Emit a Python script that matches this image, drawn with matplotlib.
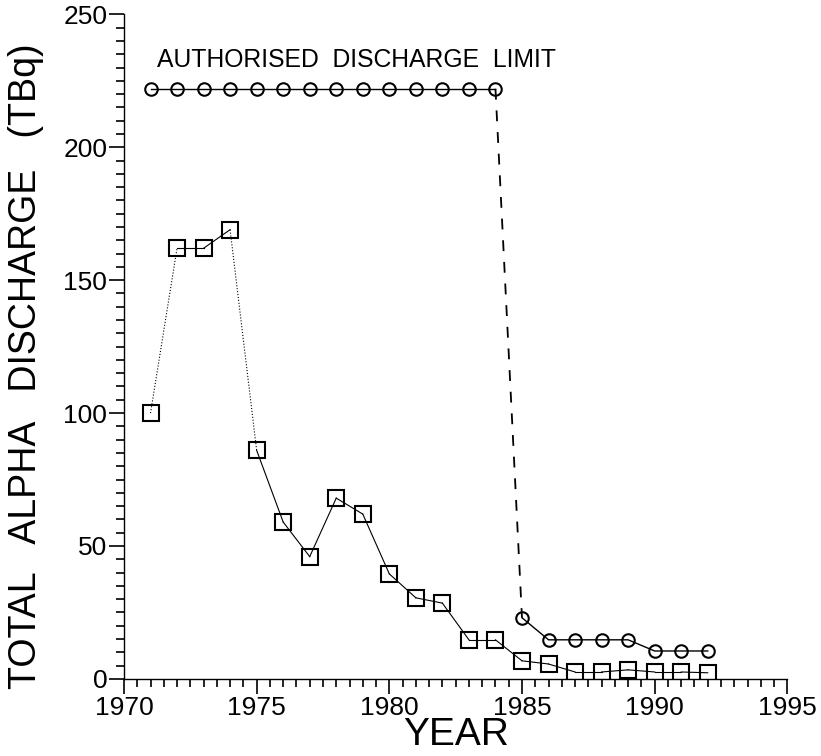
import matplotlib
matplotlib.use("Agg")
import matplotlib.pyplot as plt
from matplotlib.ticker import MultipleLocator

plt.rcParams['font.family'] = ['Liberation Sans', 'DejaVu Sans']

years = list(range(1971, 1993))
discharge = [100, 162, 162, 169, 86, 59, 46, 68, 62, 39.5, 30.5, 28.5,
             14.7, 14.7, 6.8, 5.6, 2.6, 2.6, 3.4, 2.6, 2.6, 2.3]
limit = [222] * 14 + [23, 14.7, 14.7, 14.7, 14.7, 10.5, 10.5, 10.5]

fig = plt.figure(figsize=(8.21, 7.56), dpi=100)
ax = fig.add_axes([0.151, 0.102, 0.808, 0.879])

# measured discharges: steep early segments drawn dotted
dotted = {(1971, 1972), (1974, 1975)}
for i in range(len(years) - 1):
    seg = (years[i], years[i + 1])
    ls = ':' if seg in dotted else '-'
    ax.plot(seg, discharge[i:i + 2], color='black', lw=0.8, ls=ls)
ax.plot(years, discharge, ls='none', marker='s', ms=11, mfc='none',
        mec='black', mew=1.5)

# authorised limit, dashed where it drops
cut = years.index(1985)
ax.plot(years[:cut], limit[:cut], color='black', lw=1.0)
ax.plot(years[cut - 1:cut + 1], limit[cut - 1:cut + 1], color='black',
        lw=1.3, ls=(0, (6, 6)))
ax.plot(years[cut:], limit[cut:], color='black', lw=1.0)
ax.plot(years, limit, ls='none', marker='o', ms=9, mfc='none',
        mec='black', mew=1.5)

ax.text(1971.25, 233, 'AUTHORISED  DISCHARGE  LIMIT', fontsize=17.8,
        va='center', ha='left')

ax.set_xlim(1970, 1995)
ax.set_ylim(0, 250)
ax.xaxis.set_major_locator(MultipleLocator(5))
ax.xaxis.set_minor_locator(MultipleLocator(0.5))
ax.yaxis.set_major_locator(MultipleLocator(50))
ax.yaxis.set_minor_locator(MultipleLocator(5))
ax.tick_params(which='major', direction='out', length=11, width=1.2,
               labelsize=19, pad=1)
ax.tick_params(which='minor', direction='out', length=6, width=1.2)

for side in ('top', 'right'):
    ax.spines[side].set_visible(False)
ax.spines['left'].set_linewidth(1.0)
ax.spines['bottom'].set_linewidth(1.0)

ax.set_xlabel('YEAR', fontsize=28)
ax.xaxis.set_label_coords(0.5, -0.058)
ax.set_ylabel('TOTAL   ALPHA   DISCHARGE   (TBq)', fontsize=27)
ax.yaxis.set_label_coords(-0.121, 0.47)

fig.savefig('out.png', dpi=100)
